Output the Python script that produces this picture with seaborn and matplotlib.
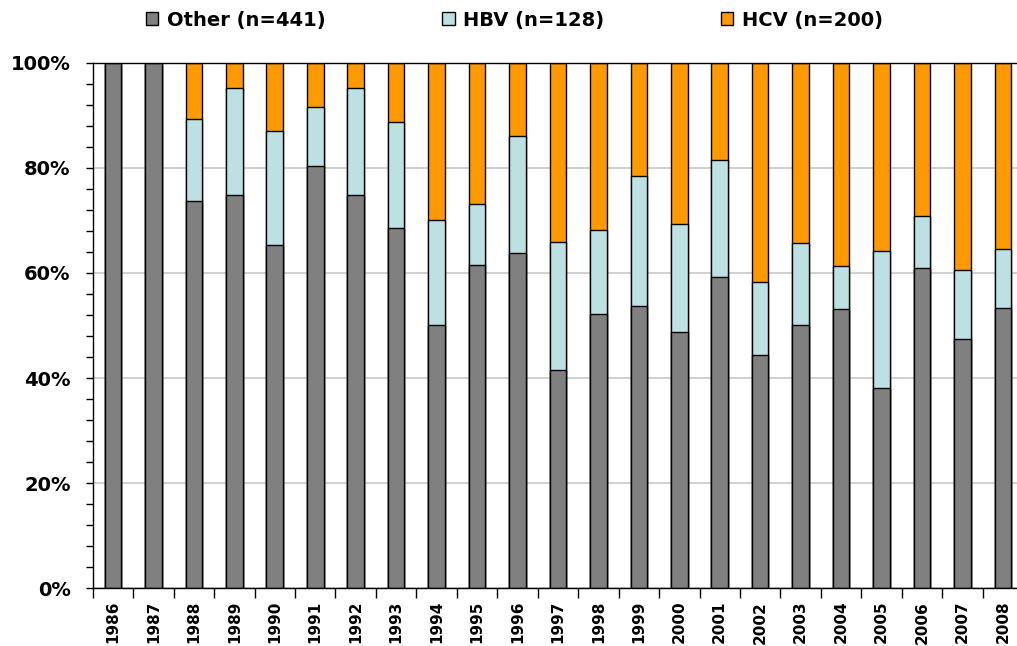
import matplotlib
matplotlib.use("Agg")
import matplotlib.pyplot as plt
import numpy as np
import pandas as pd
import seaborn as sns
from matplotlib.ticker import MultipleLocator, FixedLocator, FuncFormatter
from matplotlib.patches import Patch

years = ["1986", "1987", "1988", "1989", "1990", "1991", "1992", "1993", "1994",
         "1995", "1996", "1997", "1998", "1999", "2000", "2001", "2002", "2003",
         "2004", "2005", "2006", "2007", "2008"]
other = [100, 100, 73.7, 74.9, 65.3, 80.4, 74.9, 68.6, 50.0, 61.6, 63.8, 41.6,
         52.1, 53.7, 48.8, 59.2, 44.3, 50.0, 53.2, 38.2, 60.9, 47.4, 53.4]
hbv = [0, 0, 15.6, 20.3, 21.7, 11.2, 20.3, 20.1, 20.0, 11.6, 22.2, 24.3,
       16.0, 24.8, 20.5, 22.2, 13.9, 15.7, 8.2, 26.0, 9.9, 13.2, 11.1]
hcv = [0, 0, 10.7, 4.8, 13.0, 8.4, 4.8, 11.3, 30.0, 26.8, 14.0, 34.1,
       31.9, 21.5, 30.7, 18.6, 41.8, 34.3, 38.6, 35.8, 29.2, 39.4, 35.5]
series_labels = ["Other (n=441)", "HBV (n=128)", "HCV (n=200)"]
colors = ["#808080", "#BDE0E3", "#FF9900"]

df = pd.DataFrame({"year": years, "other": other, "hbv": hbv, "hcv": hcv})
df["lvl_other"] = df["other"]
df["lvl_hbv"] = df["other"] + df["hbv"]
df["lvl_hcv"] = df["other"] + df["hbv"] + df["hcv"]

sns.set_style("white")
plt.rcParams["font.family"] = ["DejaVu Sans"]
plt.rcParams["font.weight"] = "bold"
plt.rcParams["text.color"] = "black"
plt.rcParams["xtick.color"] = "black"
plt.rcParams["ytick.color"] = "black"
plt.rcParams["axes.labelcolor"] = "black"

fig = plt.figure(figsize=(10.17, 6.46), dpi=100)
ax = fig.add_axes([0.0912, 0.0893, 1.006 - 0.0912, 0.903 - 0.0893])
ax.set_axisbelow(True)
ax.yaxis.grid(True, color="#C8C8C8", linewidth=1.2)

for col, c in [("lvl_hcv", colors[2]), ("lvl_hbv", colors[1]), ("lvl_other", colors[0])]:
    sns.barplot(data=df, x="year", y=col, order=years, color=c, saturation=1,
                edgecolor="black", linewidth=1, width=0.41, errorbar=None, ax=ax)

ax.set_xlim(-0.5, len(years) - 0.5)
ax.set_ylim(0, 100)
ax.set_xlabel("")
ax.set_ylabel("")

ax.yaxis.set_major_locator(MultipleLocator(20))
ax.yaxis.set_minor_locator(MultipleLocator(4))
ax.yaxis.set_major_formatter(FuncFormatter(lambda v, p: f"{int(round(v))}%"))
ax.tick_params(axis="y", which="both", direction="out", length=5, width=1,
               color="black", labelcolor="black", left=True, pad=11)
ax.tick_params(axis="y", which="major", labelsize=14)

ax.xaxis.set_minor_locator(FixedLocator(np.arange(-0.5, len(years), 1.0)))
ax.tick_params(axis="x", which="major", length=0, pad=9, labelsize=11,
               labelrotation=90, labelcolor="black")
ax.tick_params(axis="x", which="minor", direction="out", length=7, width=1,
               color="black", bottom=True)

for s in ["left", "bottom", "top", "right"]:
    ax.spines[s].set_visible(True)
    ax.spines[s].set_color("black")
    ax.spines[s].set_linewidth(1)

handles = [Patch(facecolor=c, edgecolor="black", linewidth=1) for c in colors]
leg = fig.legend(handles, series_labels, loc="center", bbox_to_anchor=(0.506, 0.969),
                 ncol=3, frameon=False, fontsize=14, handlelength=0.62, handleheight=0.62,
                 handletextpad=0.45, columnspacing=6.0, borderaxespad=0, borderpad=0)
for t in leg.get_texts():
    t.set_color("black")

fig.savefig("out.png", dpi=100)
